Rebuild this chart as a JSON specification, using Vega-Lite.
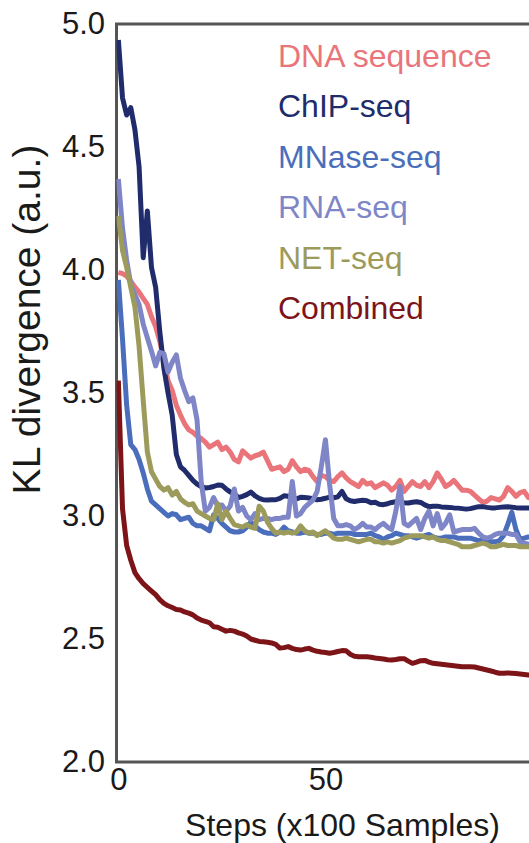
{
"$schema": "https://vega.github.io/schema/vega-lite/v6.json",
"width": 416, "height": 738,
"autosize": {"type": "none"},
"padding": {"left": 116.5, "top": 24, "right": 0, "bottom": 81},
"background": "white",
"config": {"view": {"stroke": "#555555", "strokeWidth": 3}, "font": "Liberation Sans"},
"data": {"values": [
{"step":0,"DNA sequence":3.99,"ChIP-seq":4.935,"MNase-seq":3.96,"RNA-seq":4.37,"NET-seq":4.22,"Combined":3.55},
{"step":1,"DNA sequence":3.985,"ChIP-seq":4.70,"MNase-seq":3.72,"RNA-seq":4.17,"NET-seq":4.08,"Combined":3.03},
{"step":2,"DNA sequence":3.975,"ChIP-seq":4.63,"MNase-seq":3.45,"RNA-seq":4.04,"NET-seq":4.01,"Combined":2.88},
{"step":3,"DNA sequence":3.955,"ChIP-seq":4.66,"MNase-seq":3.29,"RNA-seq":3.94,"NET-seq":3.93,"Combined":2.82},
{"step":4,"DNA sequence":3.93,"ChIP-seq":4.57,"MNase-seq":3.27,"RNA-seq":3.90,"NET-seq":3.85,"Combined":2.77},
{"step":5,"DNA sequence":3.91,"ChIP-seq":4.42,"MNase-seq":3.23,"RNA-seq":3.86,"NET-seq":3.69,"Combined":2.745},
{"step":6,"DNA sequence":3.885,"ChIP-seq":4.05,"MNase-seq":3.175,"RNA-seq":3.78,"NET-seq":3.47,"Combined":2.725},
{"step":7,"DNA sequence":3.86,"ChIP-seq":4.24,"MNase-seq":3.11,"RNA-seq":3.725,"NET-seq":3.26,"Combined":2.71},
{"step":8,"DNA sequence":3.81,"ChIP-seq":4.01,"MNase-seq":3.06,"RNA-seq":3.67,"NET-seq":3.18,"Combined":2.695},
{"step":9,"DNA sequence":3.77,"ChIP-seq":3.93,"MNase-seq":3.045,"RNA-seq":3.61,"NET-seq":3.15,"Combined":2.68},
{"step":10,"DNA sequence":3.71,"ChIP-seq":3.75,"MNase-seq":3.03,"RNA-seq":3.665,"NET-seq":3.12,"Combined":2.66},
{"step":11,"DNA sequence":3.63,"ChIP-seq":3.60,"MNase-seq":3.015,"RNA-seq":3.66,"NET-seq":3.105,"Combined":2.645},
{"step":12,"DNA sequence":3.55,"ChIP-seq":3.50,"MNase-seq":3.00,"RNA-seq":3.585,"NET-seq":3.115,"Combined":2.635},
{"step":13,"DNA sequence":3.51,"ChIP-seq":3.41,"MNase-seq":3.01,"RNA-seq":3.625,"NET-seq":3.085,"Combined":2.628},
{"step":14,"DNA sequence":3.45,"ChIP-seq":3.25,"MNase-seq":3.005,"RNA-seq":3.655,"NET-seq":3.10,"Combined":2.62},
{"step":15,"DNA sequence":3.41,"ChIP-seq":3.20,"MNase-seq":2.985,"RNA-seq":3.56,"NET-seq":3.07,"Combined":2.618},
{"step":16,"DNA sequence":3.375,"ChIP-seq":3.185,"MNase-seq":2.99,"RNA-seq":3.51,"NET-seq":3.055,"Combined":2.61},
{"step":17,"DNA sequence":3.35,"ChIP-seq":3.165,"MNase-seq":2.995,"RNA-seq":3.465,"NET-seq":3.045,"Combined":2.605},
{"step":18,"DNA sequence":3.34,"ChIP-seq":3.145,"MNase-seq":2.97,"RNA-seq":3.48,"NET-seq":3.05,"Combined":2.598},
{"step":19,"DNA sequence":3.325,"ChIP-seq":3.13,"MNase-seq":2.96,"RNA-seq":3.39,"NET-seq":3.02,"Combined":2.585},
{"step":20,"DNA sequence":3.315,"ChIP-seq":3.12,"MNase-seq":2.96,"RNA-seq":3.14,"NET-seq":3.01,"Combined":2.577},
{"step":21,"DNA sequence":3.30,"ChIP-seq":3.114,"MNase-seq":2.95,"RNA-seq":3.02,"NET-seq":3.00,"Combined":2.572},
{"step":22,"DNA sequence":3.28,"ChIP-seq":3.116,"MNase-seq":2.94,"RNA-seq":3.035,"NET-seq":2.99,"Combined":2.566},
{"step":23,"DNA sequence":3.29,"ChIP-seq":3.12,"MNase-seq":3.005,"RNA-seq":3.075,"NET-seq":2.985,"Combined":2.55},
{"step":24,"DNA sequence":3.30,"ChIP-seq":3.126,"MNase-seq":2.99,"RNA-seq":3.04,"NET-seq":3.05,"Combined":2.548},
{"step":25,"DNA sequence":3.27,"ChIP-seq":3.125,"MNase-seq":2.97,"RNA-seq":3.045,"NET-seq":2.985,"Combined":2.54},
{"step":26,"DNA sequence":3.28,"ChIP-seq":3.11,"MNase-seq":2.955,"RNA-seq":3.02,"NET-seq":3.02,"Combined":2.532},
{"step":27,"DNA sequence":3.26,"ChIP-seq":3.098,"MNase-seq":2.94,"RNA-seq":3.04,"NET-seq":2.99,"Combined":2.535},
{"step":28,"DNA sequence":3.23,"ChIP-seq":3.09,"MNase-seq":2.935,"RNA-seq":3.11,"NET-seq":2.965,"Combined":2.532},
{"step":29,"DNA sequence":3.22,"ChIP-seq":3.075,"MNase-seq":2.935,"RNA-seq":3.02,"NET-seq":2.96,"Combined":2.525},
{"step":30,"DNA sequence":3.265,"ChIP-seq":3.08,"MNase-seq":2.94,"RNA-seq":3.035,"NET-seq":2.955,"Combined":2.52},
{"step":31,"DNA sequence":3.25,"ChIP-seq":3.087,"MNase-seq":2.955,"RNA-seq":3.00,"NET-seq":2.965,"Combined":2.512},
{"step":32,"DNA sequence":3.235,"ChIP-seq":3.097,"MNase-seq":2.975,"RNA-seq":2.985,"NET-seq":2.955,"Combined":2.50},
{"step":33,"DNA sequence":3.245,"ChIP-seq":3.082,"MNase-seq":2.96,"RNA-seq":3.01,"NET-seq":2.95,"Combined":2.495},
{"step":34,"DNA sequence":3.25,"ChIP-seq":3.072,"MNase-seq":2.945,"RNA-seq":2.985,"NET-seq":3.04,"Combined":2.49},
{"step":35,"DNA sequence":3.26,"ChIP-seq":3.066,"MNase-seq":2.935,"RNA-seq":2.99,"NET-seq":3.02,"Combined":2.489},
{"step":36,"DNA sequence":3.225,"ChIP-seq":3.065,"MNase-seq":2.93,"RNA-seq":2.99,"NET-seq":2.975,"Combined":2.487},
{"step":37,"DNA sequence":3.19,"ChIP-seq":3.066,"MNase-seq":2.93,"RNA-seq":2.985,"NET-seq":2.95,"Combined":2.484},
{"step":38,"DNA sequence":3.195,"ChIP-seq":3.066,"MNase-seq":2.925,"RNA-seq":2.99,"NET-seq":2.93,"Combined":2.478},
{"step":39,"DNA sequence":3.20,"ChIP-seq":3.072,"MNase-seq":2.935,"RNA-seq":2.99,"NET-seq":2.935,"Combined":2.463},
{"step":40,"DNA sequence":3.18,"ChIP-seq":3.082,"MNase-seq":2.955,"RNA-seq":2.995,"NET-seq":2.93,"Combined":2.465},
{"step":41,"DNA sequence":3.19,"ChIP-seq":3.08,"MNase-seq":2.94,"RNA-seq":2.995,"NET-seq":2.935,"Combined":2.469},
{"step":42,"DNA sequence":3.225,"ChIP-seq":3.066,"MNase-seq":2.935,"RNA-seq":3.14,"NET-seq":2.93,"Combined":2.462},
{"step":43,"DNA sequence":3.20,"ChIP-seq":3.07,"MNase-seq":2.93,"RNA-seq":3.00,"NET-seq":2.935,"Combined":2.457},
{"step":44,"DNA sequence":3.18,"ChIP-seq":3.076,"MNase-seq":2.93,"RNA-seq":3.01,"NET-seq":2.96,"Combined":2.455},
{"step":45,"DNA sequence":3.19,"ChIP-seq":3.075,"MNase-seq":2.935,"RNA-seq":3.035,"NET-seq":2.94,"Combined":2.459},
{"step":46,"DNA sequence":3.185,"ChIP-seq":3.073,"MNase-seq":2.93,"RNA-seq":3.05,"NET-seq":2.93,"Combined":2.462},
{"step":47,"DNA sequence":3.16,"ChIP-seq":3.07,"MNase-seq":2.93,"RNA-seq":3.065,"NET-seq":2.935,"Combined":2.455},
{"step":48,"DNA sequence":3.14,"ChIP-seq":3.066,"MNase-seq":2.925,"RNA-seq":3.10,"NET-seq":2.92,"Combined":2.45},
{"step":49,"DNA sequence":3.165,"ChIP-seq":3.068,"MNase-seq":2.925,"RNA-seq":3.20,"NET-seq":2.93,"Combined":2.447},
{"step":50,"DNA sequence":3.16,"ChIP-seq":3.072,"MNase-seq":2.93,"RNA-seq":3.31,"NET-seq":2.94,"Combined":2.445},
{"step":51,"DNA sequence":3.145,"ChIP-seq":3.077,"MNase-seq":2.93,"RNA-seq":3.13,"NET-seq":2.925,"Combined":2.442},
{"step":52,"DNA sequence":3.14,"ChIP-seq":3.074,"MNase-seq":2.925,"RNA-seq":2.99,"NET-seq":2.91,"Combined":2.445},
{"step":53,"DNA sequence":3.16,"ChIP-seq":3.078,"MNase-seq":2.93,"RNA-seq":2.96,"NET-seq":2.905,"Combined":2.449},
{"step":54,"DNA sequence":3.175,"ChIP-seq":3.10,"MNase-seq":2.93,"RNA-seq":2.96,"NET-seq":2.905,"Combined":2.453},
{"step":55,"DNA sequence":3.155,"ChIP-seq":3.07,"MNase-seq":2.93,"RNA-seq":2.965,"NET-seq":2.91,"Combined":2.452},
{"step":56,"DNA sequence":3.14,"ChIP-seq":3.062,"MNase-seq":2.93,"RNA-seq":2.96,"NET-seq":2.905,"Combined":2.438},
{"step":57,"DNA sequence":3.13,"ChIP-seq":3.059,"MNase-seq":2.925,"RNA-seq":2.945,"NET-seq":2.90,"Combined":2.43},
{"step":58,"DNA sequence":3.12,"ChIP-seq":3.062,"MNase-seq":2.925,"RNA-seq":2.955,"NET-seq":2.895,"Combined":2.428},
{"step":59,"DNA sequence":3.145,"ChIP-seq":3.064,"MNase-seq":2.925,"RNA-seq":2.97,"NET-seq":2.90,"Combined":2.428},
{"step":60,"DNA sequence":3.13,"ChIP-seq":3.062,"MNase-seq":2.925,"RNA-seq":2.955,"NET-seq":2.905,"Combined":2.428},
{"step":61,"DNA sequence":3.135,"ChIP-seq":3.054,"MNase-seq":2.93,"RNA-seq":2.955,"NET-seq":2.905,"Combined":2.426},
{"step":62,"DNA sequence":3.115,"ChIP-seq":3.056,"MNase-seq":2.92,"RNA-seq":2.945,"NET-seq":2.895,"Combined":2.423},
{"step":63,"DNA sequence":3.125,"ChIP-seq":3.048,"MNase-seq":2.915,"RNA-seq":2.96,"NET-seq":2.895,"Combined":2.421},
{"step":64,"DNA sequence":3.135,"ChIP-seq":3.046,"MNase-seq":2.905,"RNA-seq":2.97,"NET-seq":2.89,"Combined":2.419},
{"step":65,"DNA sequence":3.125,"ChIP-seq":3.05,"MNase-seq":2.915,"RNA-seq":2.955,"NET-seq":2.895,"Combined":2.416},
{"step":66,"DNA sequence":3.105,"ChIP-seq":3.055,"MNase-seq":2.92,"RNA-seq":2.945,"NET-seq":2.89,"Combined":2.415},
{"step":67,"DNA sequence":3.12,"ChIP-seq":3.058,"MNase-seq":2.93,"RNA-seq":3.02,"NET-seq":2.895,"Combined":2.417},
{"step":68,"DNA sequence":3.145,"ChIP-seq":3.056,"MNase-seq":2.925,"RNA-seq":3.12,"NET-seq":2.90,"Combined":2.42},
{"step":69,"DNA sequence":3.10,"ChIP-seq":3.054,"MNase-seq":2.92,"RNA-seq":2.97,"NET-seq":2.91,"Combined":2.42},
{"step":70,"DNA sequence":3.12,"ChIP-seq":3.053,"MNase-seq":2.92,"RNA-seq":2.96,"NET-seq":2.915,"Combined":2.41},
{"step":71,"DNA sequence":3.14,"ChIP-seq":3.056,"MNase-seq":2.915,"RNA-seq":2.975,"NET-seq":2.92,"Combined":2.401},
{"step":72,"DNA sequence":3.125,"ChIP-seq":3.058,"MNase-seq":2.91,"RNA-seq":2.99,"NET-seq":2.92,"Combined":2.406},
{"step":73,"DNA sequence":3.12,"ChIP-seq":3.055,"MNase-seq":2.915,"RNA-seq":2.945,"NET-seq":2.92,"Combined":2.412},
{"step":74,"DNA sequence":3.14,"ChIP-seq":3.045,"MNase-seq":2.92,"RNA-seq":2.99,"NET-seq":2.915,"Combined":2.413},
{"step":75,"DNA sequence":3.115,"ChIP-seq":3.038,"MNase-seq":2.925,"RNA-seq":3.02,"NET-seq":2.91,"Combined":2.406},
{"step":76,"DNA sequence":3.14,"ChIP-seq":3.04,"MNase-seq":2.915,"RNA-seq":2.96,"NET-seq":2.915,"Combined":2.401},
{"step":77,"DNA sequence":3.175,"ChIP-seq":3.04,"MNase-seq":2.91,"RNA-seq":3.01,"NET-seq":2.905,"Combined":2.399},
{"step":78,"DNA sequence":3.15,"ChIP-seq":3.037,"MNase-seq":2.91,"RNA-seq":2.95,"NET-seq":2.90,"Combined":2.397},
{"step":79,"DNA sequence":3.12,"ChIP-seq":3.036,"MNase-seq":2.915,"RNA-seq":2.97,"NET-seq":2.90,"Combined":2.395},
{"step":80,"DNA sequence":3.13,"ChIP-seq":3.035,"MNase-seq":2.915,"RNA-seq":3.005,"NET-seq":2.895,"Combined":2.393},
{"step":81,"DNA sequence":3.145,"ChIP-seq":3.033,"MNase-seq":2.915,"RNA-seq":2.935,"NET-seq":2.89,"Combined":2.391},
{"step":82,"DNA sequence":3.125,"ChIP-seq":3.032,"MNase-seq":2.91,"RNA-seq":2.94,"NET-seq":2.885,"Combined":2.389},
{"step":83,"DNA sequence":3.105,"ChIP-seq":3.03,"MNase-seq":2.91,"RNA-seq":2.945,"NET-seq":2.875,"Combined":2.387},
{"step":84,"DNA sequence":3.105,"ChIP-seq":3.028,"MNase-seq":2.91,"RNA-seq":2.945,"NET-seq":2.875,"Combined":2.387},
{"step":85,"DNA sequence":3.10,"ChIP-seq":3.03,"MNase-seq":2.91,"RNA-seq":2.945,"NET-seq":2.875,"Combined":2.387},
{"step":86,"DNA sequence":3.085,"ChIP-seq":3.034,"MNase-seq":2.905,"RNA-seq":2.95,"NET-seq":2.88,"Combined":2.386},
{"step":87,"DNA sequence":3.07,"ChIP-seq":3.038,"MNase-seq":2.90,"RNA-seq":2.93,"NET-seq":2.885,"Combined":2.382},
{"step":88,"DNA sequence":3.055,"ChIP-seq":3.038,"MNase-seq":2.90,"RNA-seq":2.915,"NET-seq":2.89,"Combined":2.378},
{"step":89,"DNA sequence":3.06,"ChIP-seq":3.035,"MNase-seq":2.90,"RNA-seq":2.91,"NET-seq":2.885,"Combined":2.374},
{"step":90,"DNA sequence":3.075,"ChIP-seq":3.033,"MNase-seq":2.895,"RNA-seq":2.915,"NET-seq":2.875,"Combined":2.37},
{"step":91,"DNA sequence":3.07,"ChIP-seq":3.033,"MNase-seq":2.895,"RNA-seq":2.925,"NET-seq":2.875,"Combined":2.365},
{"step":92,"DNA sequence":3.065,"ChIP-seq":3.035,"MNase-seq":2.90,"RNA-seq":2.93,"NET-seq":2.88,"Combined":2.361},
{"step":93,"DNA sequence":3.08,"ChIP-seq":3.037,"MNase-seq":2.92,"RNA-seq":2.93,"NET-seq":2.885,"Combined":2.361},
{"step":94,"DNA sequence":3.115,"ChIP-seq":3.038,"MNase-seq":2.965,"RNA-seq":2.93,"NET-seq":2.88,"Combined":2.362},
{"step":95,"DNA sequence":3.10,"ChIP-seq":3.036,"MNase-seq":3.015,"RNA-seq":2.925,"NET-seq":2.88,"Combined":2.361},
{"step":96,"DNA sequence":3.08,"ChIP-seq":3.034,"MNase-seq":2.945,"RNA-seq":2.925,"NET-seq":2.88,"Combined":2.36},
{"step":97,"DNA sequence":3.095,"ChIP-seq":3.033,"MNase-seq":2.905,"RNA-seq":2.895,"NET-seq":2.875,"Combined":2.358},
{"step":98,"DNA sequence":3.10,"ChIP-seq":3.033,"MNase-seq":2.91,"RNA-seq":2.89,"NET-seq":2.875,"Combined":2.356},
{"step":99,"DNA sequence":3.075,"ChIP-seq":3.033,"MNase-seq":2.915,"RNA-seq":2.885,"NET-seq":2.875,"Combined":2.354},
{"step":100,"DNA sequence":3.07,"ChIP-seq":3.033,"MNase-seq":2.91,"RNA-seq":2.88,"NET-seq":2.875,"Combined":2.352}
]},
"transform": [{"fold": ["DNA sequence","ChIP-seq","MNase-seq","RNA-seq","NET-seq","Combined"], "as": ["series","kl"]}],
"mark": {"type": "line", "strokeWidth": 5, "strokeJoin": "round", "clip": true},
"encoding": {
  "x": {"field": "step", "type": "quantitative",
        "scale": {"domain": [-0.45, 100], "nice": false, "zero": false},
        "axis": {"values": [0, 50], "title": "Steps (x100 Samples)", "grid": false, "ticks": false, "tickSize": 0, "domain": false,
                 "labelFontSize": 31, "labelColor": "#1a1a1a", "labelPadding": 3, "labelFlush": false, "labelFont": "Liberation Sans",
                 "titleFontSize": 32, "titleFontWeight": "normal", "titleColor": "#1a1a1a", "titleFont": "Liberation Sans",
                 "titleX": 225.5, "titleY": 73, "titleBaseline": "alphabetic", "titleAlign": "center"}},
  "y": {"field": "kl", "type": "quantitative",
        "scale": {"domain": [2, 5], "nice": false, "zero": false},
        "axis": {"values": [2, 2.5, 3, 3.5, 4, 4.5, 5], "format": ".1f", "title": "KL divergence (a.u.)", "grid": false, "ticks": false, "tickSize": 0, "domain": false,
                 "labelFontSize": 31, "labelColor": "#1a1a1a", "labelPadding": 12, "labelFlush": false, "labelFont": "Liberation Sans",
                 "titleFontSize": 39, "titleFontWeight": "normal", "titleColor": "#1a1a1a", "titleFont": "Liberation Sans",
                 "titleX": -77, "titleY": 295, "titleBaseline": "alphabetic", "titleAlign": "center", "titleAngle": -90}},
  "color": {"field": "series", "type": "nominal",
        "scale": {"domain": ["DNA sequence","ChIP-seq","MNase-seq","RNA-seq","NET-seq","Combined"],
                  "range": ["#e9757a","#212c6c","#4a6ebc","#7f86c7","#9c9b5c","#7d1518"]},
        "legend": {"orient": "none", "legendX": 129.5, "legendY": 17, "title": null, "padding": 0,
                   "symbolSize": 0, "symbolStrokeWidth": 0, "symbolOpacity": 0, "labelOffset": 0,
                   "labelFontSize": 32, "labelFont": "Liberation Sans", "rowPadding": 18.4, "labelLimit": 400,
                   "encode": {"labels": {"update": {"fill": {"scale": "color", "field": "value"}}}}}}
}
}
